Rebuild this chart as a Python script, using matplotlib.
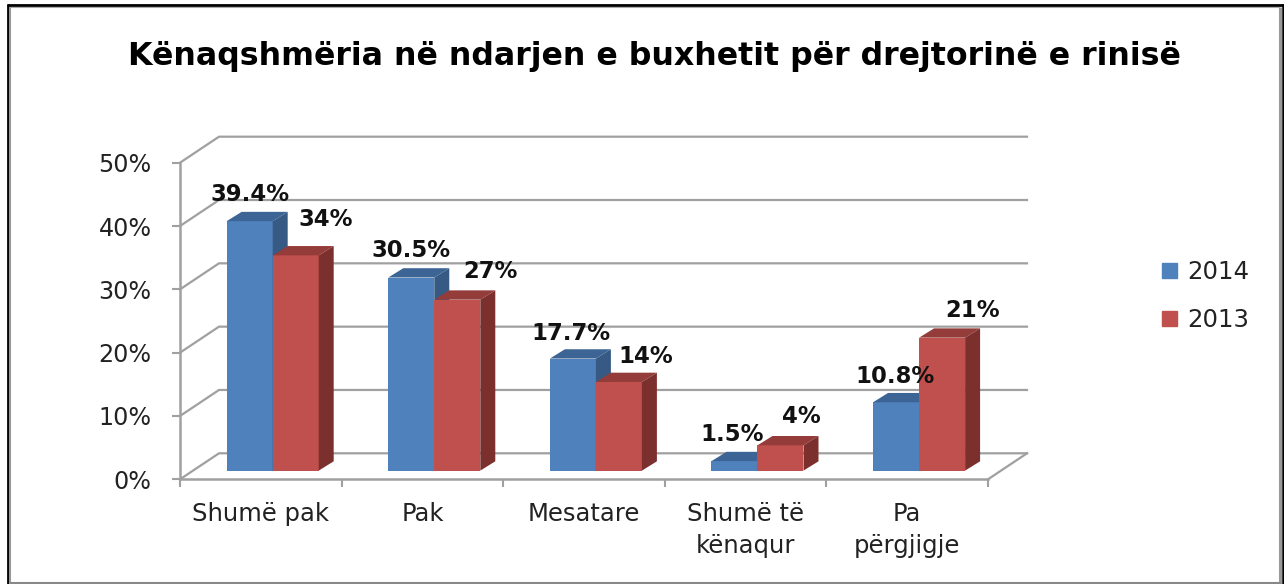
import numpy as np
import matplotlib
matplotlib.use("Agg")
import matplotlib.pyplot as plt
from matplotlib.lines import Line2D
from matplotlib.patches import Patch, Polygon

plt.rcParams['font.family'] = ['DejaVu Sans']

categorias = ["Shumë pak", "Pak", "Mesatare", "Shumë të\nkënaqur", "Pa\npërgjigje"]
valores_2014 = [39.4, 30.5, 17.7, 1.5, 10.8]
valores_2013 = [34, 27, 14, 4, 21]
rotulos_2014 = ["39.4%", "30.5%", "17.7%", "1.5%", "10.8%"]
rotulos_2013 = ["34%", "27%", "14%", "4%", "21%"]
ticks_y = [0, 10, 20, 30, 40, 50]

# hand placed data labels, pixels away from the bar top
desvio_2014 = [(0, 27), (0, 27), (-2, 25), (-2, 27), (-1, 26)]
desvio_2013 = [(30, 36), (33, 28), (27, 25), (21, 29), (30, 27)]

W, H = 1284, 584
X0, X1 = 180, 988
Y0, Y1 = 479.3, 162.7

# depth of the fake 3d box, in data units
PROF_X = 39 / 161.6
PROF_Y = 26 / 6.33
BARRA_X = 15 / 161.6
BARRA_Y = 9.3 / 6.33
LARG = 46 / 161.6
INICIO = 0.2085

COR_GRADE = "#a0a0a0"
AZUL = ("#4f81bd", "#3c6494", "#375a85")
VERMELHO = ("#c0504d", "#943c3a", "#7c302e")

fig = plt.figure(figsize=(W / 100, H / 100), dpi=100)
ax = fig.add_axes([X0 / W, 1 - Y0 / H, (X1 - X0) / W, (Y0 - Y1) / H])
ax.set_xlim(0, 5)
ax.set_ylim(0, 50)
ax.patch.set_alpha(0)


def barra(x, valor, cores, z):
    # bar sits in the middle third of the depth
    bx, by = x + PROF_X / 3, PROF_Y / 3
    px, py = BARRA_X, BARRA_Y
    topo = by + valor
    d = x + LARG + PROF_X / 3
    ax.bar(bx, valor, LARG, bottom=by, align="edge", color=cores[0], zorder=z)
    ax.add_patch(Polygon([(bx, topo), (d, topo), (d + px, topo + py), (bx + px, topo + py)],
                         closed=True, fc=cores[1], ec="none", zorder=z))
    ax.add_patch(Polygon([(d, by), (d + px, by + py), (d + px, topo + py), (d, topo)],
                         closed=True, fc=cores[2], ec="none", zorder=z))


# walls and floor
for t in ticks_y:
    ax.plot([0, PROF_X, 5 + PROF_X], [t, t + PROF_Y, t + PROF_Y], color=COR_GRADE, lw=1.6,
            clip_on=False, zorder=1, solid_joinstyle="miter")
ax.plot([5, 5 + PROF_X], [0, PROF_Y], color=COR_GRADE, lw=1.6, clip_on=False, zorder=1)

for i in range(len(categorias)):
    x = i + INICIO
    barra(x, valores_2014[i], AZUL, 3 + i)
    barra(x + LARG, valores_2013[i], VERMELHO, 3.5 + i)

    for val, txt, desvio, xb in ((valores_2014[i], rotulos_2014[i], desvio_2014[i], x),
                                 (valores_2013[i], rotulos_2013[i], desvio_2013[i], x + LARG)):
        ax.annotate(txt, (xb + PROF_X / 3 + LARG / 2, val + PROF_Y / 3), xytext=desvio,
                    textcoords="offset pixels", ha="center", va="center", fontsize=16.4,
                    fontweight="bold", color="#111111", zorder=20, annotation_clip=False)

for lado in ("top", "right"):
    ax.spines[lado].set_visible(False)
for lado in ("left", "bottom"):
    ax.spines[lado].set_color(COR_GRADE)
    ax.spines[lado].set_linewidth(1.8)

ax.set_yticks(ticks_y)
ax.set_yticklabels([f"{t}%" for t in ticks_y], fontsize=17.2, color="#222222")
ax.tick_params(axis="y", length=6, width=1.5, color=COR_GRADE, pad=14.5)
ax.set_xticks(np.arange(6))
ax.set_xticklabels([])
ax.tick_params(axis="x", which="major", length=6, width=1.5, color=COR_GRADE)
ax.set_xticks(np.arange(5) + 0.5, minor=True)
ax.set_xticklabels(categorias, minor=True, fontsize=17.5, color="#222222", linespacing=1.42)
ax.tick_params(axis="x", which="minor", length=0, pad=16)

ax.legend(handles=[Patch(color=AZUL[0], label="2014"), Patch(color=VERMELHO[0], label="2013")],
          loc="upper left", bbox_to_anchor=(1161.5 / W, 1 - 260 / H), bbox_transform=fig.transFigure,
          frameon=False, fontsize=17.6, handlelength=0.65, handleheight=0.6, handletextpad=0.4,
          labelspacing=0.98, borderpad=0, borderaxespad=0, labelcolor="#222222")

fig.text(654 / W, 1 - 57 / H, "Kënaqshmëria në ndarjen e buxhetit për drejtorinë e rinisë",
         ha="center", va="center", fontsize=22.8, fontweight="bold", color="black")

# image frame
def moldura(xs, ys, cor, lw):
    fig.add_artist(Line2D(np.array(xs) / W, 1 - np.array(ys) / H, color=cor, lw=lw,
                          solid_capstyle="butt"))

moldura([8, 8], [4, 584], "black", 2)
moldura([10.5, 10.5], [7, 584], "#999999", 1.5)
moldura([7, 1284], [5.3, 5.3], "black", 2)
moldura([10, 1279], [7.2, 7.2], "#aaaaaa", 0.8)
moldura([1280.2, 1280.2], [7, 584], "#999999", 2.2)
moldura([1283, 1283], [4, 584], "black", 1.8)
moldura([10, 1281], [583, 583], "#888888", 1.5)

fig.savefig("out.png", dpi=100)
